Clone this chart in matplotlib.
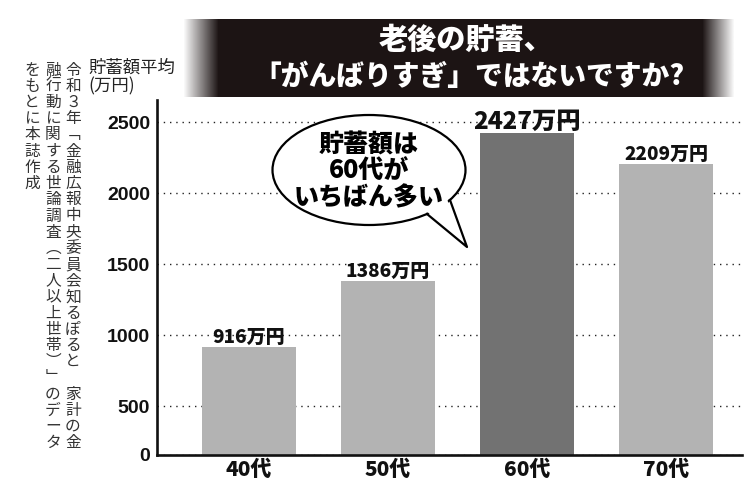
import numpy as np
import matplotlib.pyplot as plt
from matplotlib.patches import Ellipse, Polygon

plt.rcParams['font.family'] = ['Noto Sans CJK JP', 'DejaVu Sans']

# data
ages = ["40代", "50代", "60代", "70代"]
savings = [916, 1386, 2427, 2209]
yticks = [0, 500, 1000, 1500, 2000, 2500]
title_lines = ["老後の貯蓄、", "「がんばりすぎ」ではないですか?"]
bubble_lines = ["貯蓄額は", "60代が", "いちばん多い"]
ylabel_lines = ["貯蓄額平均", "(万円)"]
source_cols = ["令和３年﹁金融広報中央委員会知るぽると　家計の金",
               "融行動に関する世論調査︵二人以上世帯︶﹂のデータ",
               "をもとに本誌作成"]

# the 0-500 band is squeezed in the original chart
k = 48 / 71.0

def fwd(y):
    y = np.asarray(y, dtype=float)
    return np.where(y < 500, y * k, 500 * k + (y - 500))

def inv(v):
    v = np.asarray(v, dtype=float)
    return np.where(v < 500 * k, v / k, v - 500 * k + 500)


fig = plt.figure(figsize=(7.5, 4.91), dpi=100)
ax = fig.add_axes([157 / 750, 36.5 / 491, 585 / 750, 354.5 / 491])
ax.set_yscale('function', functions=(fwd, inv))

x = np.arange(len(ages))
colors = ['#b3b3b3'] * len(ages)
colors[2] = '#727272'
ax.bar(x, savings, width=0.678, color=colors, zorder=2)
ax.set_xlim(-0.659, 3.546)
ax.set_ylim(0, 2658)

ax.set_yticks(yticks)
ax.set_yticklabels([str(t) for t in yticks], fontfamily='Liberation Sans',
                   fontweight='bold', fontsize=14, color='#111111')
ax.set_xticks(x)
ax.set_xticklabels(ages, fontweight='heavy', fontsize=15, color='#111111')
ax.tick_params(length=0)
ax.tick_params(axis='y', pad=5)
ax.tick_params(axis='x', pad=4)
ax.yaxis.grid(True, linestyle=(0, (1, 3.5)), color='#222222', lw=1)
ax.set_axisbelow(True)
for s in ['top', 'right']:
    ax.spines[s].set_visible(False)
for s in ['left', 'bottom']:
    ax.spines[s].set_linewidth(1.9)
    ax.spines[s].set_color('#111111')

for i, v in enumerate(savings):
    size = 17.5 if i == 2 else 13.7
    ax.annotate(str(v) + "万円", (x[i], v), xytext=(0, 3), textcoords='offset points',
                ha='center', va='baseline', fontsize=size, fontweight='heavy', color='#111111')

# overlay in pixel coords for the decorations
ov = fig.add_axes([0, 0, 1, 1], zorder=5)

# title box with faded ends
xs = np.arange(183, 736)
alpha = np.clip(np.minimum((xs - 183) / 35.0, (735 - xs) / 32.0), 0, 1)
img = np.zeros((1, len(xs), 4))
img[..., 0] = 0.11
img[..., 1] = 0.08
img[..., 2] = 0.08
img[..., 3] = alpha
ov.imshow(img, extent=(183, 735, 97, 19), aspect='auto', interpolation='bilinear')
ov.text(466, 40, title_lines[0], color='white', fontsize=21, fontweight='heavy', ha='center', va='center')
ov.text(469, 77, title_lines[1], color='white', fontsize=20, fontweight='heavy', ha='center', va='center')

# speech bubble
ov.add_patch(Ellipse((369, 170), 193, 110, facecolor='white', edgecolor='black', lw=1.6, zorder=2))
ov.add_patch(Polygon([(424, 209), (446, 197), (467, 247)], closed=True,
                     facecolor='white', edgecolor='none', zorder=3))
ov.plot([427, 467, 450], [214, 247, 200], color='black', lw=1.6, zorder=4)
for line, yy in zip(bubble_lines, [145, 170, 197]):
    ov.text(369, yy, line, fontsize=18, fontweight='heavy', ha='center', va='center', zorder=5)

# y axis title
ov.text(88, 68, ylabel_lines[0], fontsize=12.5, ha='left', va='center', color='#222222')
ov.text(88, 86, ylabel_lines[1], fontsize=12.5, ha='left', va='center', color='#222222')

# vertical source note
step = 16.2
for cx, col in zip([73, 53, 32], source_cols):
    y = 62
    for ch in col:
        if ch.strip():
            ov.text(cx, y + step / 2, ch, fontsize=11.3, ha='center', va='center', color='#333333')
        y += step

ov.set_xlim(0, 750)
ov.set_ylim(491, 0)
ov.axis('off')

plt.savefig("out.png")
